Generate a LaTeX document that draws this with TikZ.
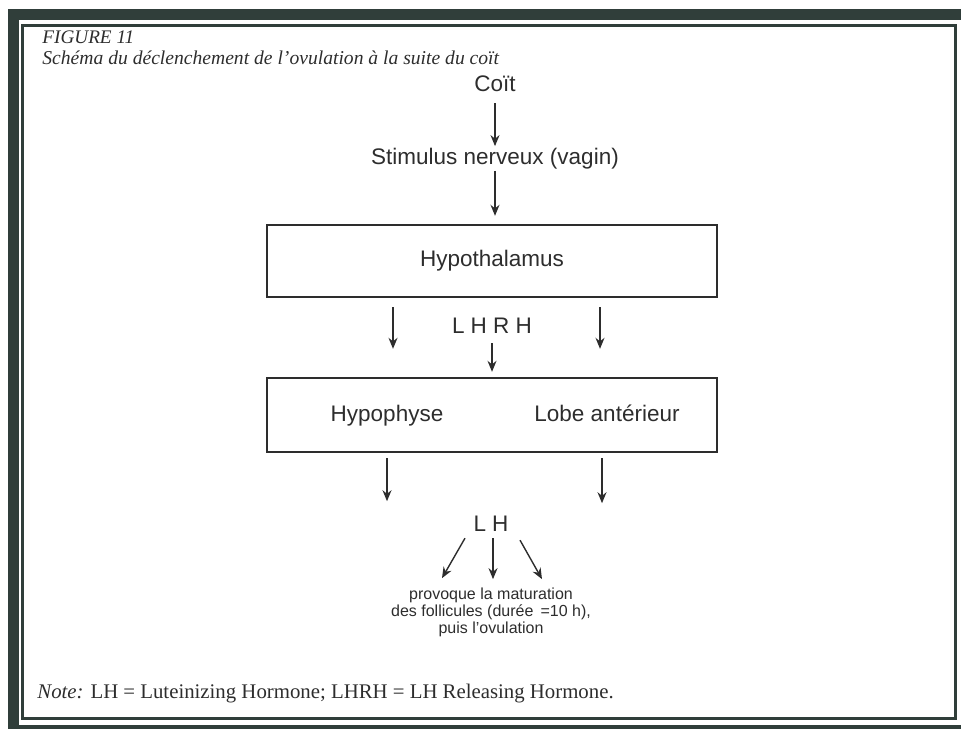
\documentclass[tikz,border=0pt]{standalone}
\usepackage{fontspec}
\setmainfont{Liberation Serif}
\newfontfamily\labelfont{Liberation Sans}
\usetikzlibrary{arrows.meta}
\usetikzlibrary{positioning}
\definecolor{ink}{RGB}{45,45,45}
\definecolor{rim}{RGB}{48,62,58}
\tikzset{lbl/.style = {font=\labelfont\fontsize{11.25}{13}\selectfont, text=ink, inner sep=0}}
\tikzset{organ/.style = {draw=ink, line width=1.2pt, minimum width=225pt, inner sep=0}}
\tikzset{flow/.style = {draw=ink, line width=0.7pt, -{Stealth[length=5.5pt, width=4.5pt, inset=1.8pt]}}}

\begin{document}
\begin{tikzpicture}[x=0.5pt, y=-0.5pt]
      \useasboundingbox (0,0) rectangle (961,728);

      % frame
      \draw [rim, line width=5.5pt] (13,14) rectangle (966,730);
      \draw [rim, line width=1.75pt] (22.5,25.5) rectangle (955.5,718.5);

      \node [anchor=west, inner sep=0, text=ink, font=\itshape\fontsize{9.6}{11}\selectfont] (fig) at (42,37) {FIGURE 11};
      \node [anchor=west, inner sep=0, text=ink, font=\itshape\fontsize{9.8}{11}\selectfont] (title) at (42,58) {Schéma du déclenchement de l’ovulation à la suite du coït};

      \node [lbl] (coit) at (495,84) {Coït};
      \node [lbl] (stim) at (495,159) {Stimulus nerveux (vagin)};
      \node [lbl, organ, minimum height=36pt] (hyth) at (492,261) {Hypothalamus};
      \node [lbl] (lhrh) at (492,326) {L H R H};
      \node [organ, minimum height=37pt] (hyph) at (492,415) {};
      \node [lbl, anchor=base] (hypo) at (387,421) {Hypophyse};
      \node [lbl, anchor=base] (lobe) at (607,421) {Lobe antérieur};
      \node [lbl] (lh) at (491,524) {L H};
      \node [lbl, font=\labelfont\fontsize{8}{6.6}\selectfont, align=center] (effet) at (491,612)
        {provoque la maturation\\des follicules (durée \,=10 h),\\puis l’ovulation};
      \node [anchor=west, inner sep=0, text=ink, font=\fontsize{10.4}{12}\selectfont] (note) at (37,694)
        {{\itshape Note:} LH = Luteinizing Hormone; LHRH = LH Releasing Hormone.};

      \draw [flow, shorten <=5.5pt, shorten >=1pt] (coit) -- (stim);
      \draw [flow, shorten <=0.5pt, shorten >=4pt] (stim) -- (stim |- hyth.north);
      \draw [flow] ([xshift=-49.5pt, yshift=-4.5pt]hyth.south) -- ([xshift=-49.5pt, yshift=14pt]hyph.north);
      \draw [flow] ([xshift=54pt, yshift=-4.5pt]hyth.south) -- ([xshift=54pt, yshift=14pt]hyph.north);
      \draw [flow, shorten <=4.5pt, shorten >=2.5pt] (lhrh) -- (lhrh |- hyph.north);
      \draw [flow] ([xshift=-52.5pt, yshift=-2.5pt]hyph.south) -- ([xshift=-52.5pt, yshift=-24pt]hyph.south);
      \draw [flow] ([xshift=55pt, yshift=-2.5pt]hyph.south) -- ([xshift=55pt, yshift=-25pt]hyph.south);
      \draw [flow] ([xshift=-13pt, yshift=-3pt]lh.south) -- ([xshift=-24.5pt, yshift=-23pt]lh.south);
      \draw [flow] ([xshift=1pt, yshift=-3pt]lh.south) -- ([xshift=1pt, yshift=-23.5pt]lh.south);
      \draw [flow] ([xshift=14.5pt, yshift=-4pt]lh.south) -- ([xshift=25.5pt, yshift=-23.5pt]lh.south);
    \end{tikzpicture}
\end{document}
